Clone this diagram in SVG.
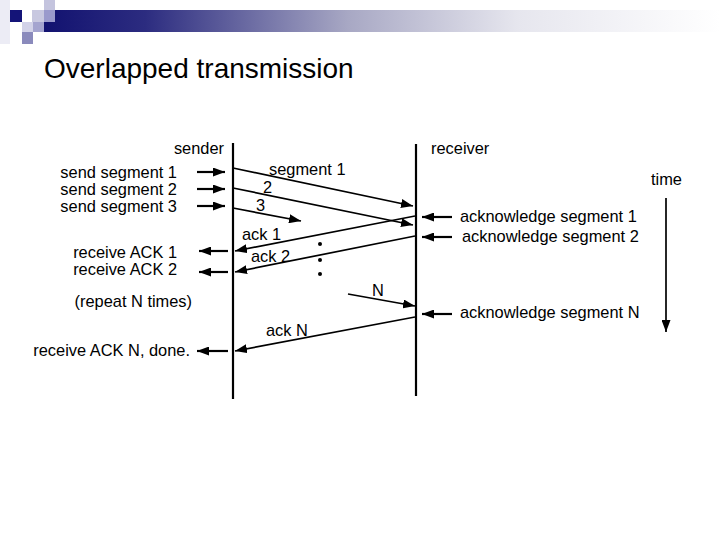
<svg xmlns="http://www.w3.org/2000/svg" width="720" height="540" viewBox="0 0 720 540">
<defs>
<linearGradient id="bar" x1="44" y1="0" x2="720" y2="0" gradientUnits="userSpaceOnUse">
<stop offset="0" stop-color="#121270"/>
<stop offset="0.15" stop-color="#2c2c80"/>
<stop offset="0.45" stop-color="#a8a8c4"/>
<stop offset="0.7" stop-color="#e6e6ee"/>
<stop offset="1" stop-color="#ffffff"/>
</linearGradient>
<marker id="ah" viewBox="0 0 12 9" refX="12" refY="4.5" markerWidth="12" markerHeight="9" markerUnits="userSpaceOnUse" orient="auto">
<path d="M0,0 L12,4.5 L0,9 Z" fill="#000"/>
</marker>
</defs>
<style>
text{font-family:"Liberation Sans",Arial,sans-serif;fill:#000}
.lbl{font-size:16.4px}
.life{stroke:#000;stroke-width:2.2;fill:none}
.msg{stroke:#000;stroke-width:1.7;fill:none;marker-end:url(#ah)}
.sm{stroke:#000;stroke-width:2.2;fill:none;marker-end:url(#ah)}
</style>
<g id="header">
<rect x="0" y="0" width="10" height="44" fill="#ececf5"/>
<rect x="10" y="10" width="12" height="12" fill="#141478"/>
<rect x="32" y="10" width="12" height="12" fill="#c8c8e0"/>
<rect x="44" y="0" width="11" height="10" fill="#c4c4de"/>
<rect x="22" y="22" width="11" height="10" fill="#d2d2e8"/>
<rect x="33" y="22" width="11" height="10" fill="#a4a4cf"/>
<rect x="22" y="32" width="11" height="12" fill="#8a8abc"/>
<rect x="44" y="10" width="676" height="22" fill="url(#bar)"/>
<rect x="44" y="10" width="11" height="12" fill="#9a9acc"/>
</g>
<text id="title" x="44" y="78" font-size="28">Overlapped transmission</text>
<g id="sender">
<line class="life" x1="233" y1="143" x2="233" y2="399"/>
<text class="lbl" x="224" y="154" text-anchor="end">sender</text>
</g>
<g id="receiver">
<line class="life" x1="416" y1="144" x2="416" y2="396"/>
<text class="lbl" x="431" y="154">receiver</text>
</g>
<g id="time">
<text class="lbl" x="651" y="185">time</text>
<line class="sm" x1="666" y1="198" x2="666" y2="332" style="stroke-width:1.7"/>
</g>
<g id="labels">
<text class="lbl" x="177" y="178" text-anchor="end">send segment 1</text>
<text class="lbl" x="177" y="195" text-anchor="end">send segment 2</text>
<text class="lbl" x="177" y="212" text-anchor="end">send segment 3</text>
<text class="lbl" x="177" y="258" text-anchor="end">receive ACK 1</text>
<text class="lbl" x="177" y="275" text-anchor="end">receive ACK 2</text>
<text class="lbl" x="192" y="307" text-anchor="end">(repeat N times)</text>
<text class="lbl" x="190" y="356" text-anchor="end">receive ACK N, done.</text>
<text class="lbl" x="460" y="222">acknowledge segment 1</text>
<text class="lbl" x="462" y="242">acknowledge segment 2</text>
<text class="lbl" x="460" y="318">acknowledge segment N</text>
<text class="lbl" x="269" y="175">segment 1</text>
<text class="lbl" x="263" y="193">2</text>
<text class="lbl" x="256" y="211">3</text>
<text class="lbl" x="242" y="240">ack 1</text>
<text class="lbl" x="251" y="262">ack 2</text>
<text class="lbl" x="372" y="296">N</text>
<text class="lbl" x="266" y="336">ack N</text>
</g>
<g id="connectors">
<line class="sm" x1="197" y1="172" x2="225" y2="172"/>
<line class="sm" x1="197" y1="189" x2="225" y2="189"/>
<line class="sm" x1="197" y1="206" x2="225" y2="206"/>
<line class="sm" x1="228" y1="251" x2="199" y2="251"/>
<line class="sm" x1="228" y1="272" x2="199" y2="272"/>
<line class="sm" x1="228" y1="351" x2="197" y2="351"/>
<line class="sm" x1="452" y1="217" x2="422" y2="217"/>
<line class="sm" x1="452" y1="237" x2="422" y2="237"/>
<line class="sm" x1="452" y1="314" x2="422" y2="314"/>
<line class="msg" x1="233" y1="168" x2="413" y2="206"/>
<line class="msg" x1="233" y1="188" x2="413" y2="225"/>
<line class="msg" x1="233" y1="208" x2="301" y2="221"/>
<line class="msg" x1="415" y1="216" x2="235" y2="251"/>
<line class="msg" x1="415" y1="236" x2="235" y2="272"/>
<line class="msg" x1="348" y1="294" x2="415" y2="306"/>
<line class="msg" x1="415" y1="317" x2="235" y2="351"/>
<circle cx="320" cy="244" r="2" fill="#000"/>
<circle cx="320" cy="260" r="2" fill="#000"/>
<circle cx="320" cy="274" r="2" fill="#000"/>
</g>
</svg>
